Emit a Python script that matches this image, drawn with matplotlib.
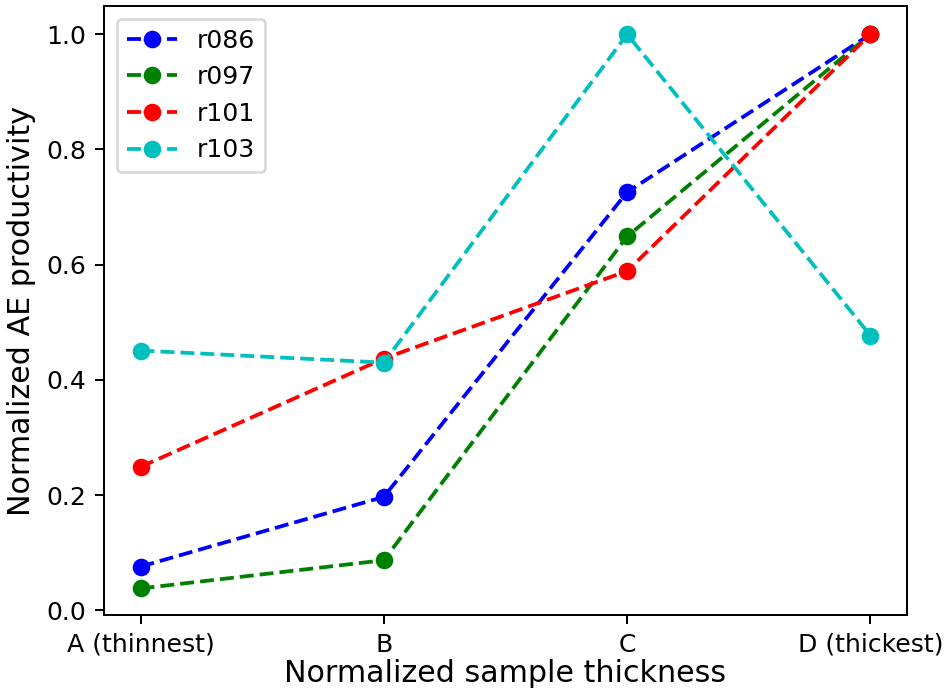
import matplotlib
matplotlib.use('Agg')
import matplotlib.pyplot as plt

thickness = ['A (thinnest)', 'B', 'C', 'D (thickest)']
r086 = [0.076, 0.197, 0.726, 1.0]
r097 = [0.038, 0.087, 0.649, 1.0]
r101 = [0.249, 0.437, 0.589, 1.0]
r103 = [0.451, 0.430, 1.0, 0.477]

fig = plt.figure(figsize=(949 / 181, 693 / 181), dpi=181)
ax = fig.add_axes([0.1096, 0.1126, 0.8461, 0.8787])

x = range(len(thickness))
ax.plot(x, r086, 'bo--', label='r086')
ax.plot(x, r097, 'go--', label='r097')
ax.plot(x, r101, 'ro--', label='r101')
ax.plot(x, r103, 'co--', label='r103')

ax.set_xticks(list(x))
ax.set_xticklabels(thickness)
ax.set_ylim(-0.008, 1.049)
ax.set_xlabel('Normalized sample thickness', fontsize=12, labelpad=1)
ax.set_ylabel('Normalized AE productivity', fontsize=12)
ax.legend(loc=2)

fig.savefig('out.png', dpi=181)
